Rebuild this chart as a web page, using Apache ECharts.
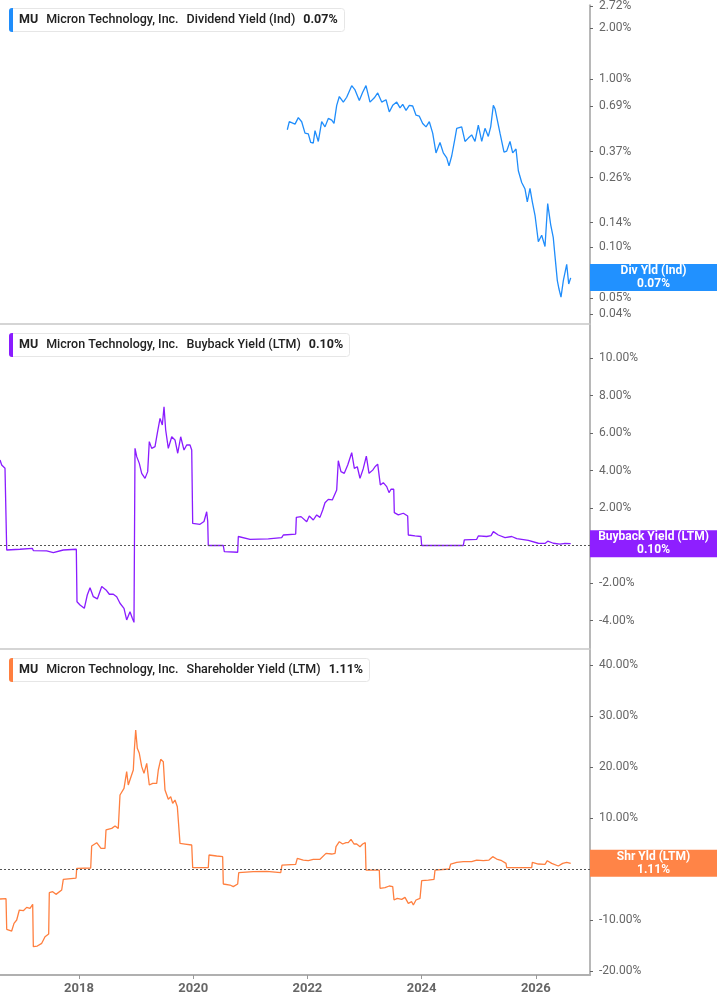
<!DOCTYPE html>
<html><head><meta charset="utf-8">
<script src="https://cdn.jsdelivr.net/npm/echarts@6/dist/echarts.min.js"></script>
<style>html,body{margin:0;padding:0;background:#fff}#c{width:717px;height:1005px}</style>
</head><body><div id="c"></div>
<script>
// ---- data (x in decimal years, y in percent) ----
const divYears = [2021.648,2021.683,2021.783,2021.841,2021.900,2021.958,2022.016,2022.058,2022.103,2022.133,2022.191,2022.250,2022.308,2022.366,2022.426,2022.466,2022.513,2022.559,2022.629,2022.688,2022.776,2022.834,2022.909,2022.968,2023.026,2023.096,2023.172,2023.231,2023.301,2023.377,2023.434,2023.494,2023.564,2023.622,2023.669,2023.727,2023.785,2023.844,2023.902,2023.960,2024.019,2024.077,2024.135,2024.194,2024.252,2024.322,2024.380,2024.440,2024.480,2024.527,2024.585,2024.615,2024.702,2024.760,2024.818,2024.877,2024.935,2024.993,2025.053,2025.110,2025.168,2025.210,2025.256,2025.285,2025.326,2025.373,2025.443,2025.490,2025.548,2025.595,2025.653,2025.694,2025.753,2025.811,2025.851,2025.898,2025.939,2025.986,2026.044,2026.103,2026.161,2026.208,2026.261,2026.306,2026.336,2026.377,2026.406,2026.441,2026.482,2026.541,2026.576,2026.611];
const divValues = [0.50,0.558,0.54,0.59,0.558,0.477,0.472,0.42,0.417,0.494,0.426,0.558,0.52,0.584,0.57,0.545,0.698,0.788,0.73,0.78,0.914,0.862,0.746,0.836,0.914,0.73,0.774,0.828,0.73,0.754,0.638,0.698,0.73,0.674,0.707,0.652,0.698,0.692,0.61,0.602,0.545,0.52,0.558,0.477,0.364,0.42,0.364,0.34,0.305,0.349,0.446,0.51,0.52,0.426,0.446,0.466,0.426,0.533,0.426,0.51,0.456,0.52,0.698,0.667,0.57,0.477,0.368,0.373,0.426,0.364,0.384,0.285,0.243,0.222,0.186,0.224,0.186,0.155,0.108,0.118,0.101,0.182,0.136,0.114,0.0886,0.0633,0.0565,0.0506,0.0633,0.0792,0.0605,0.0658];

const bbYears = [2016.617,2016.646,2016.704,2016.727,2016.734,2016.967,2017.182,2017.200,2017.434,2017.550,2017.725,2017.953,2017.965,2018.018,2018.093,2018.145,2018.193,2018.251,2018.321,2018.398,2018.473,2018.531,2018.601,2018.660,2018.718,2018.788,2018.835,2018.893,2018.934,2018.963,2018.981,2019.011,2019.056,2019.098,2019.156,2019.203,2019.231,2019.273,2019.331,2019.371,2019.419,2019.459,2019.489,2019.518,2019.564,2019.624,2019.681,2019.729,2019.781,2019.839,2019.886,2019.944,2019.974,2019.991,2020.119,2020.189,2020.236,2020.254,2020.264,2020.527,2020.545,2020.779,2020.790,2020.995,2021.315,2021.550,2021.578,2021.795,2021.806,2021.888,2021.988,2022.033,2022.103,2022.163,2022.220,2022.268,2022.308,2022.366,2022.436,2022.471,2022.513,2022.541,2022.588,2022.646,2022.706,2022.776,2022.822,2022.874,2022.921,2022.979,2023.032,2023.079,2023.144,2023.184,2023.231,2023.277,2023.329,2023.389,2023.429,2023.464,2023.512,2023.522,2023.592,2023.680,2023.756,2023.767,2023.884,2023.989,2024.001,2024.730,2024.748,2024.965,2024.993,2025.140,2025.216,2025.256,2025.343,2025.461,2025.578,2025.666,2025.869,2026.044,2026.161,2026.209,2026.307,2026.424,2026.511,2026.611];
const bbValues = [4.56,4.29,4.12,4.03,-0.24,-0.20,-0.15,-0.27,-0.29,-0.38,-0.24,-0.20,-3.0,-3.17,-3.35,-2.64,-2.25,-2.73,-2.85,-2.19,-2.37,-2.6,-2.6,-2.73,-3.08,-3.35,-3.97,-3.53,-3.88,-4.1,5.18,4.74,4.38,3.85,3.58,3.94,5.54,5.18,5.27,5.98,6.78,6.43,7.40,6.16,5.18,5.80,5.63,4.92,5.80,5.09,5.36,5.36,5.09,1.18,1.13,1.28,1.80,1.3,0,0,-0.33,-0.36,0.48,0.33,0.35,0.42,0.56,0.61,1.50,1.54,1.27,1.57,1.36,1.63,1.50,1.89,2.28,2.46,2.43,2.34,2.96,4.52,3.94,3.85,4.29,4.95,4.11,4.20,3.58,4.11,4.77,3.85,4.02,4.20,4.34,3.23,3.35,3.14,2.82,3.00,3.00,1.75,1.63,1.72,1.57,0.56,0.51,0.48,0,0,0.3,0.33,0.51,0.48,0.53,0.74,0.56,0.42,0.48,0.37,0.27,0.12,0.11,0.23,0.12,0.07,0.11,0.10];

const shYears = [2016.617,2016.722,2016.734,2016.821,2016.862,2016.909,2016.937,2016.955,2017.025,2017.084,2017.142,2017.189,2017.200,2017.270,2017.347,2017.405,2017.469,2017.480,2017.539,2017.597,2017.697,2017.725,2017.948,2017.960,2018.205,2018.222,2018.310,2018.385,2018.455,2018.473,2018.573,2018.631,2018.688,2018.718,2018.788,2018.835,2018.863,2018.911,2018.951,2018.969,2018.993,2019.021,2019.056,2019.098,2019.138,2019.186,2019.231,2019.291,2019.361,2019.389,2019.431,2019.476,2019.506,2019.564,2019.606,2019.641,2019.681,2019.722,2019.757,2019.769,2019.856,2019.974,2019.991,2020.264,2020.277,2020.411,2020.516,2020.527,2020.644,2020.702,2020.779,2020.797,2021.053,2021.287,2021.533,2021.555,2021.795,2021.823,2021.928,2022.016,2022.103,2022.221,2022.250,2022.326,2022.426,2022.484,2022.501,2022.559,2022.618,2022.676,2022.716,2022.764,2022.816,2022.863,2022.921,2022.968,2023.014,2023.026,2023.259,2023.272,2023.359,2023.434,2023.494,2023.517,2023.574,2023.652,2023.709,2023.767,2023.826,2023.855,2023.902,2023.972,2024.001,2024.117,2024.217,2024.235,2024.485,2024.510,2024.615,2024.730,2024.877,2024.965,2025.081,2025.180,2025.245,2025.315,2025.403,2025.478,2025.490,2025.723,2025.928,2025.939,2026.044,2026.161,2026.201,2026.278,2026.394,2026.471,2026.541,2026.611];
const shValues = [-5.88,-5.82,-11.83,-12.16,-10.65,-10.0,-9.67,-8.04,-8.17,-7.52,-7.71,-6.93,-15.23,-15.1,-14.57,-13.27,-12.75,-4.64,-4.44,-4.97,-4.12,-2.03,-1.77,0.13,0.2,4.51,5.16,4.05,4.05,7.65,7.97,8.43,7.97,14.51,15.82,19.08,16.47,18.1,19.41,23.33,27.25,23.66,22.68,20.07,18.76,20.72,16.47,16.8,16.8,19.41,21.5,21.05,15.49,13.66,14.18,12.88,13.53,12.22,12.22,5.03,4.9,4.71,0.26,0.26,2.75,2.55,2.42,-2.94,-3.14,-3.46,-2.94,-0.72,-0.52,-0.46,-0.72,0.78,0.92,2.09,1.76,1.63,1.9,1.9,2.29,3.07,2.94,3.07,4.38,5.36,4.9,5.16,5.16,5.82,4.9,4.9,4.38,4.9,5.16,-0.2,-0.2,-3.79,-3.66,-3.33,-3.46,-6.08,-5.75,-5.95,-5.56,-6.73,-6.41,-7.06,-6.08,-5.75,-2.29,-2.16,-2.03,-0.2,0,0.98,1.31,1.44,1.44,1.76,1.63,1.76,2.42,1.96,1.63,1.11,0.26,0.26,0.26,1.31,0.98,0.92,1.63,1.11,0.59,1.11,1.31,1.11];

// ---- tick labels ----
const xTicks = [2018, 2020, 2022, 2024, 2026];
const divTicks = [0.04, 0.05, 0.10, 0.14, 0.26, 0.37, 0.69, 1.00, 2.00, 2.72];
const bbTicks = [-4, -2, 0, 2, 4, 6, 8, 10];
const shTicks = [-20, -10, 0, 10, 20, 30, 40];

const company = 'Micron Technology, Inc.';
const ticker = 'MU';

// ---- chart ----
const FONT = 'Roboto, "Noto Sans", sans-serif';
const C = { div: '#1f8dfb', bb: '#8a1cff', sh: '#ff7f3f' };
const BOX = { div: '#2191ff', bb: '#8e1fff', sh: '#ff8447' };
const X_MIN = 2016.6165, X_MAX = 2026.949;
const pct = v => v.toFixed(2) + '%';
const last = a => a[a.length - 1];

function legendTitle(top, color, metric, val) {
  return {
    left: 9, top: top, padding: [0, 7, 0, 0],
    backgroundColor: '#fff', borderColor: '#e6e6e6', borderWidth: 1, borderRadius: 3,
    text: '{bar|}{mu|' + ticker + '}{n|' + company + '}{n|' + metric + '}{v|' + val + '}',
    textStyle: { rich: {
      bar: { width: 4, height: 24, backgroundColor: color, borderRadius: [3, 0, 0, 3] },
      mu: { fontFamily: FONT, fontSize: 12.5, fontWeight: 'bold', color: '#222', padding: [0, 0, 0, 6] },
      n: { fontFamily: FONT, fontSize: 12.5, fontWeight: 500, color: '#222', padding: [0, 0, 0, 8] },
      v: { fontFamily: FONT, fontSize: 12.5, fontWeight: 'bold', color: '#222', padding: [0, 0, 0, 8] }
    } }
  };
}
function xAx(gi, show) {
  return {
    type: 'value', gridIndex: gi, min: X_MIN, max: X_MAX, splitLine: { show: false },
    axisLine: { show: true, onZero: false, lineStyle: { color: show ? '#b0b0b0' : '#c8c8c8', width: show ? 2 : 1.5 } },
    axisTick: { show: show, customValues: xTicks, length: 4, lineStyle: { color: '#999' } },
    axisLabel: { show: show, customValues: xTicks, formatter: v => String(Math.round(v)), margin: 7,
      color: '#666', fontSize: 13, fontWeight: 'bold', fontFamily: FONT }
  };
}
function yAx(gi, min, max, ticks, fmt) {
  return {
    type: 'value', gridIndex: gi, position: 'right', min: min, max: max, splitLine: { show: false },
    axisLine: { show: true, onZero: false, lineStyle: { color: '#b8b8b8', width: 2 } },
    axisTick: { show: true, customValues: ticks, length: 3, lineStyle: { color: '#666', width: 1 } },
    axisLabel: { customValues: ticks, formatter: fmt, margin: 9, color: '#666', fontSize: 12, fontFamily: FONT }
  };
}
function boxItem(yVal, color, name, val) {
  return {
    yAxis: yVal, lineStyle: { color: 'rgba(0,0,0,0)', width: 0, type: 'solid' },
    label: { show: true, position: 'end', distance: 63.5, align: 'center', verticalAlign: 'middle',
      width: 127, padding: [1, 0], backgroundColor: color, color: '#fff', fontFamily: FONT,
      fontSize: 12, fontWeight: 'bold', lineHeight: 12.5, formatter: name + '\n' + val }
  };
}
const zeroItem = { yAxis: 0, lineStyle: { type: [2, 2], color: '#555', width: 1 }, label: { show: false } };

const divLog = divValues.map(v => Math.log10(v));
const divTickLog = divTicks.map(v => Math.log10(v));

const option = {
  animation: false,
  textStyle: { fontFamily: FONT },
  title: [
    legendTitle(8, C.div, 'Dividend Yield (Ind)', pct(last(divValues))),
    legendTitle(333, C.bb, 'Buyback Yield (LTM)', pct(last(bbValues))),
    legendTitle(658, C.sh, 'Shareholder Yield (LTM)', pct(last(shValues)))
  ],
  grid: [
    { left: 0, right: 127, top: 0, height: 324 },
    { left: 0, right: 127, top: 325, height: 324 },
    { left: 0, right: 127, top: 650, height: 325 }
  ],
  xAxis: [xAx(0, false), xAx(1, false), xAx(2, true)],
  yAxis: [
    yAx(0, Math.log10(0.035), Math.log10(2.745), divTickLog, v => pct(Math.pow(10, v))),
    yAx(1, -5.52, 11.76, bbTicks, pct),
    yAx(2, -20.78, 42.94, shTicks, pct)
  ],
  series: [
    { type: 'line', xAxisIndex: 0, yAxisIndex: 0, clip: false, showSymbol: false, symbol: 'none',
      data: divYears.map((t, i) => [t, divLog[i]]),
      lineStyle: { color: C.div, width: 1.3 }, itemStyle: { color: C.div },
      markLine: { silent: true, symbol: ['none', 'none'], animation: false,
        data: [boxItem(last(divLog), BOX.div, 'Div Yld (Ind)', pct(last(divValues)))] } },
    { type: 'line', xAxisIndex: 1, yAxisIndex: 1, clip: false, showSymbol: false, symbol: 'none',
      data: bbYears.map((t, i) => [t, bbValues[i]]),
      lineStyle: { color: C.bb, width: 1.3 }, itemStyle: { color: C.bb },
      markLine: { silent: true, symbol: ['none', 'none'], animation: false,
        data: [zeroItem, boxItem(last(bbValues), BOX.bb, 'Buyback Yield (LTM)', pct(last(bbValues)))] } },
    { type: 'line', xAxisIndex: 2, yAxisIndex: 2, clip: false, showSymbol: false, symbol: 'none',
      data: shYears.map((t, i) => [t, shValues[i]]),
      lineStyle: { color: C.sh, width: 1.3 }, itemStyle: { color: C.sh },
      markLine: { silent: true, symbol: ['none', 'none'], animation: false,
        data: [zeroItem, boxItem(last(shValues), BOX.sh, 'Shr Yld (LTM)', pct(last(shValues)))] } }
  ]
};
const chart = echarts.init(document.getElementById('c'), null, { renderer: 'canvas' });
chart.setOption(option);
</script>
</body></html>
